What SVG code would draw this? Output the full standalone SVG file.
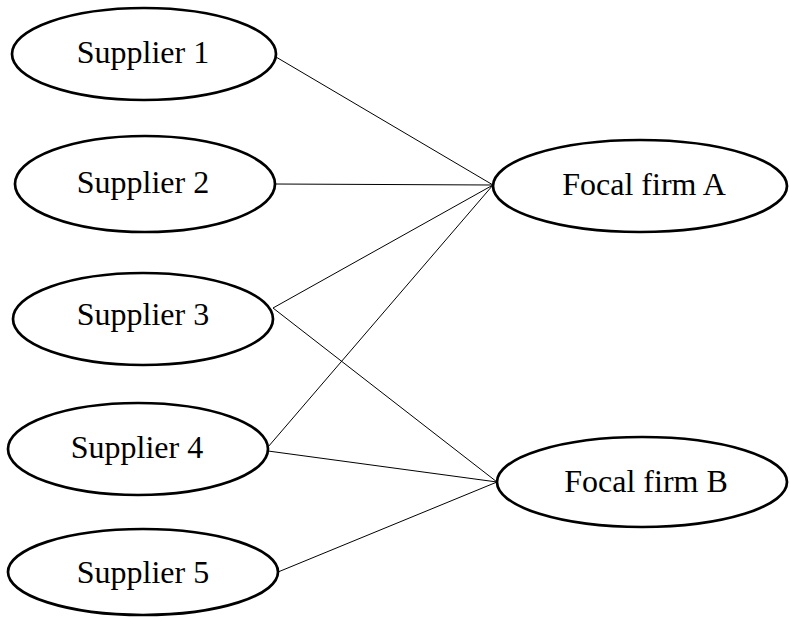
<svg xmlns="http://www.w3.org/2000/svg" width="789" height="617" viewBox="0 0 789 617">
<style>
.node ellipse{fill:#fff;stroke:#000;stroke-width:2.7}
.node text{font-family:"Liberation Serif","Times New Roman",serif;font-size:32px;fill:#000;text-anchor:middle}
#edges line{stroke:#000;stroke-width:1}
</style>
<rect width="789" height="617" fill="#fff"/>
<g id="edges">
<line x1="276" y1="57" x2="493" y2="185"/>
<line x1="274" y1="184" x2="493" y2="185"/>
<line x1="273" y1="308" x2="493" y2="185"/>
<line x1="273" y1="308" x2="497" y2="482"/>
<line x1="268" y1="447" x2="493" y2="185"/>
<line x1="268" y1="451" x2="497" y2="482"/>
<line x1="278" y1="572" x2="497" y2="482"/>
</g>
<g id="supplier1" class="node"><ellipse cx="144" cy="54" rx="132" ry="46"/><text x="143" y="63">Supplier 1</text></g>
<g id="supplier2" class="node"><ellipse cx="145" cy="184" rx="130" ry="48"/><text x="143" y="193">Supplier 2</text></g>
<g id="supplier3" class="node"><ellipse cx="143" cy="319" rx="130" ry="46"/><text x="143" y="325">Supplier 3</text></g>
<g id="supplier4" class="node"><ellipse cx="138" cy="449" rx="130" ry="46"/><text x="137" y="458">Supplier 4</text></g>
<g id="supplier5" class="node"><ellipse cx="143" cy="572" rx="135" ry="43"/><text x="143" y="583">Supplier 5</text></g>
<g id="focalA" class="node"><ellipse cx="640" cy="186" rx="147" ry="46"/><text x="644" y="195">Focal firm A</text></g>
<g id="focalB" class="node"><ellipse cx="642" cy="482" rx="145" ry="45"/><text x="646" y="492">Focal firm B</text></g>
</svg>
